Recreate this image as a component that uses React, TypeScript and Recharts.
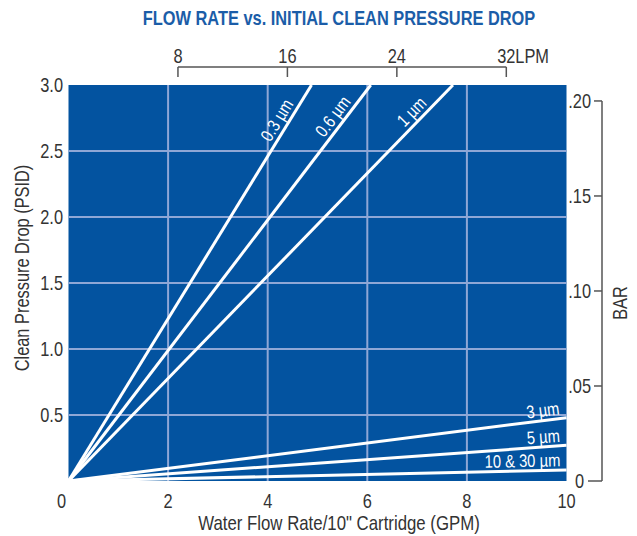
import React from "react";
import { LineChart, Line, XAxis, YAxis, CartesianGrid, Label } from "recharts";

// narrow face: Arial metrics squeezed horizontally
const FONT = "'Liberation Sans', Arial, sans-serif";
const SQUEEZE = 0.82;
const W = 637;
const H = 536;
const LEFT = 68.5;
const RIGHT = 566.5;
const TOP = 85;
const BOTTOM = 481;
const LPM_MAX = 36.4;
const BAR_MAX = 0.2084;
const TEXT = "#333";
const AXIS = "#555";

const gpmTicks = [0, 2, 4, 6, 8, 10];
const psiTicks = [0.5, 1, 1.5, 2, 2.5, 3];
const gridX = [2, 4, 6, 8];
const gridY = [0.5, 1, 1.5, 2, 2.5];
const lpmTicks = [8, 16, 24, 32];
const barTicks = [0, 0.05, 0.1, 0.15, 0.2];
const barLabels = ["0", ".05", ".10", ".15", ".20"];

const micronLabels = ["0.3 µm", "0.6 µm", "1 µm", "3 µm", "5 µm", "10 & 30 µm"];
const endFlow = [4.88, 6.07, 7.72, 10, 10, 10];
const endPsi = [3.0, 3.0, 3.0, 0.48, 0.27, 0.083];

const lines = micronLabels.map((name, i) => ({
  name,
  steep: endPsi[i] >= 3,
  data: [
    { gpm: 0, psi: 0 },
    { gpm: endFlow[i], psi: endPsi[i] },
  ],
}));

// keeps the secondary axes (LPM / BAR) alive, draws nothing
const unitAxisData = [
  { lpm: 0, bar: 0 },
  { lpm: LPM_MAX, bar: BAR_MAX },
];

type NTextProps = {
  x: number;
  y: number;
  anchor?: "start" | "middle" | "end";
  size?: number;
  rotate?: number;
  fill?: string;
  weight?: string;
  dy?: string;
  children: React.ReactNode;
};

const NText = ({ x, y, anchor = "middle", size = 20, rotate = 0, fill = TEXT, weight, dy, children }: NTextProps) => (
  <text
    transform={`translate(${x},${y}) rotate(${rotate}) scale(${SQUEEZE},1)`}
    x={0}
    y={0}
    dy={dy}
    textAnchor={anchor}
    fill={fill}
    fontSize={size}
    fontWeight={weight}
    fontFamily={FONT}
  >
    {children}
  </text>
);

const lineLabel = (text: string, steep: boolean) => (props: any) => {
  if (props.index !== 1) return null;
  const ex = props.x;
  const ey = props.y;
  const dx = ex - LEFT;
  const dy = ey - BOTTOM;
  const len = Math.hypot(dx, dy);
  const ux = dx / len;
  const uy = dy / len;
  const nx = uy;
  const ny = -ux;
  const ang = (Math.atan2(dy, dx) * 180) / Math.PI;
  const d = steep ? 48 : 6;
  const p = steep ? 5 : 4;
  return (
    <NText
      x={ex - ux * d + nx * p}
      y={ey - uy * d + ny * p}
      rotate={ang}
      anchor={steep ? "middle" : "end"}
      fill="#fff"
      size={18}
    >
      {text}
    </NText>
  );
};

const GpmTick = (props: any) => {
  const { x, payload } = props;
  return (
    <NText x={x + (payload.value === 0 ? -7 : 0)} y={BOTTOM + 27}>
      {payload.value}
    </NText>
  );
};

const PsiTick = (props: any) => {
  const { y, payload } = props;
  return (
    <NText x={LEFT - 5.5} y={y} dy="0.35em" anchor="end">
      {payload.value.toFixed(1)}
    </NText>
  );
};

const LpmTick = (props: any) => {
  const { x, payload, index } = props;
  const last = index === lpmTicks.length - 1;
  const pxPerLpm = (RIGHT - LEFT) / LPM_MAX;
  return (
    <g>
      <NText x={x} y={TOP - 22}>
        {payload.value}
      </NText>
      {last && (
        <NText x={x + 9} y={TOP - 22} anchor="start">
          LPM
        </NText>
      )}
      <line x1={x} x2={x} y1={TOP - 18} y2={TOP - 8} stroke={AXIS} strokeWidth={1.5} />
      {index === 0 && (
        <line
          x1={x}
          x2={x + (lpmTicks[lpmTicks.length - 1] - lpmTicks[0]) * pxPerLpm}
          y1={TOP - 18}
          y2={TOP - 18}
          stroke={AXIS}
          strokeWidth={1.5}
        />
      )}
    </g>
  );
};

const BarTick = (props: any) => {
  const { y, payload, index } = props;
  const axisX = RIGHT + 35.5;
  const zero = payload.value === 0;
  const top = index === barTicks.length - 1;
  return (
    <g>
      <NText x={zero ? axisX - 18 : axisX - 11} y={y} dy="0.35em" anchor="end">
        {barLabels[index]}
      </NText>
      <line x1={zero ? axisX - 14 : axisX - 8} x2={axisX} y1={y} y2={y} stroke={AXIS} strokeWidth={1.5} />
      {top && <line x1={axisX} x2={axisX} y1={y} y2={BOTTOM} stroke={AXIS} strokeWidth={1.5} />}
    </g>
  );
};

export default function App() {
  return (
    <div style={{ position: "absolute", left: 0, top: 0, width: W, height: H, background: "#fff" }}>
      <LineChart width={W} height={H} margin={{ top: 0, right: 0, bottom: 0, left: 0 }}>
        <CartesianGrid
          xAxisId="gpm"
          yAxisId="psi"
          fill="#0353A0"
          fillOpacity={1}
          stroke="#8FA7D6"
          strokeWidth={2}
          horizontalValues={gridY}
          verticalValues={gridX}
        />
        <XAxis
          xAxisId="gpm"
          dataKey="gpm"
          type="number"
          domain={[0, 10]}
          ticks={gpmTicks}
          interval={0}
          height={55}
          axisLine={false}
          tickLine={false}
          tick={GpmTick}
        >
          <Label
            content={() => (
              <NText x={339} y={530} size={20.5}>
                Water Flow Rate/10" Cartridge (GPM)
              </NText>
            )}
          />
        </XAxis>
        <XAxis
          xAxisId="lpm"
          dataKey="lpm"
          orientation="top"
          type="number"
          domain={[0, LPM_MAX]}
          ticks={lpmTicks}
          interval={0}
          height={85}
          axisLine={false}
          tickLine={false}
          tick={LpmTick}
        >
          <Label
            content={() => (
              <NText x={339} y={25} size={20} weight="bold" fill="#1B5DA8">
                FLOW RATE vs. INITIAL CLEAN PRESSURE DROP
              </NText>
            )}
          />
        </XAxis>
        <YAxis
          yAxisId="psi"
          type="number"
          domain={[0, 3]}
          ticks={psiTicks}
          interval={0}
          width={68.5}
          axisLine={false}
          tickLine={false}
          tick={PsiTick}
        >
          <Label
            content={() => (
              <NText x={29} y={268} rotate={-90}>
                Clean Pressure Drop (PSID)
              </NText>
            )}
          />
        </YAxis>
        <YAxis
          yAxisId="bar"
          orientation="right"
          type="number"
          domain={[0, BAR_MAX]}
          ticks={barTicks}
          interval={0}
          width={70.5}
          axisLine={false}
          tickLine={false}
          tick={BarTick}
        >
          <Label
            content={() => (
              <NText x={627} y={303} rotate={-90}>
                BAR
              </NText>
            )}
          />
        </YAxis>
        <Line
          xAxisId="lpm"
          yAxisId="bar"
          data={unitAxisData}
          dataKey="bar"
          stroke="none"
          dot={false}
          activeDot={false}
          isAnimationActive={false}
        />
        {lines.map((l) => (
          <Line
            key={l.name}
            xAxisId="gpm"
            yAxisId="psi"
            data={l.data}
            dataKey="psi"
            type="linear"
            stroke="#fff"
            strokeWidth={3}
            dot={false}
            activeDot={false}
            isAnimationActive={false}
            label={lineLabel(l.name, l.steep)}
          />
        ))}
      </LineChart>
    </div>
  );
}
